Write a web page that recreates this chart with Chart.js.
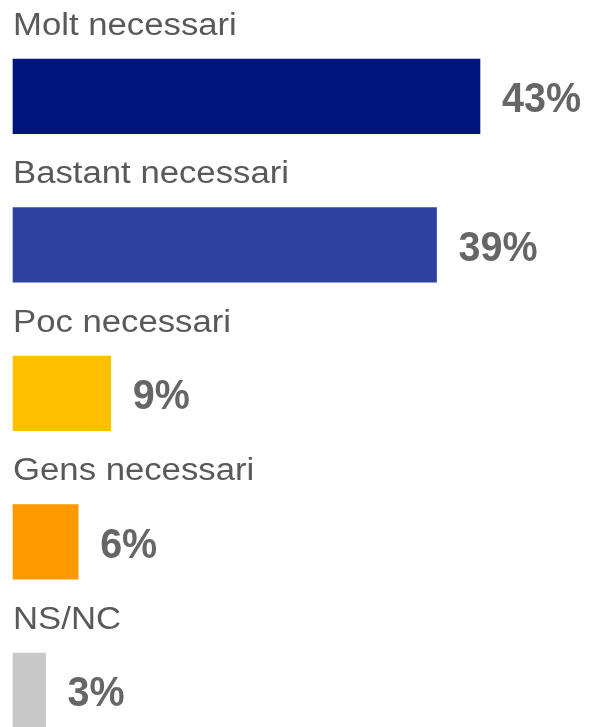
<!DOCTYPE html>
<html>
<head>
<meta charset="utf-8">
<script src="https://cdn.jsdelivr.net/npm/chart.js@4"></script>
<style>
  html, body { margin:0; padding:0; background:#fff; overflow:hidden; }
  #wrap { width:590px; height:727px; }
</style>
</head>
<body>
<div id="wrap"><canvas id="chart" width="590" height="727"></canvas></div>
<script>
// chart data
const categories = ['Molt necessari', 'Bastant necessari', 'Poc necessari', 'Gens necessari', 'NS/NC'];
const values = [43, 39, 9, 6, 3];
const barColors = ['#00137F', '#2F41A0', '#FFC000', '#FF9900', '#C8C8C8'];

// labels: category name above each bar, value to the right
const labelPlugin = {
  id: 'labels',
  afterDatasetsDraw(chart){
    const ctx = chart.ctx;
    const meta = chart.getDatasetMeta(0);
    meta.data.forEach((bar, i) => {
      const half = bar.height / 2;
      // category text
      ctx.save();
      ctx.fillStyle = '#595959';
      ctx.font = '31px "Liberation Sans", Arial, sans-serif';
      ctx.textBaseline = 'alphabetic';
      ctx.translate(chart.chartArea.left, bar.y - half - 24.5);
      ctx.scale(1.12, 1);
      ctx.fillText(categories[i], 0, 0);
      ctx.restore();
      // value text
      ctx.save();
      ctx.fillStyle = '#666666';
      ctx.font = 'bold 42px "Liberation Sans", Arial, sans-serif';
      ctx.textBaseline = 'alphabetic';
      ctx.translate(bar.x + 22, bar.y + 16);
      ctx.scale(0.94, 1);
      ctx.fillText(values[i] + '%', 0, 0);
      ctx.restore();
    });
  }
};

new Chart(document.getElementById('chart').getContext('2d'), {
  type: 'bar',
  data: {
    labels: categories,
    datasets: [{
      data: values,
      backgroundColor: barColors,
      borderWidth: 0,
      barThickness: 74.5,
      clip: false
    }]
  },
  options: {
    indexAxis: 'y',
    responsive: false,
    animation: false,
    layout: { padding: { left: 13, right: 34, top: 96.3, bottom: 36.7 } },
    plugins: { legend: { display: false }, tooltip: { enabled: false } },
    scales: {
      x: { display: false, min: 0, max: 50 },
      y: { display: false, offset: false }
    }
  },
  plugins: [labelPlugin]
});
</script>
</body>
</html>
